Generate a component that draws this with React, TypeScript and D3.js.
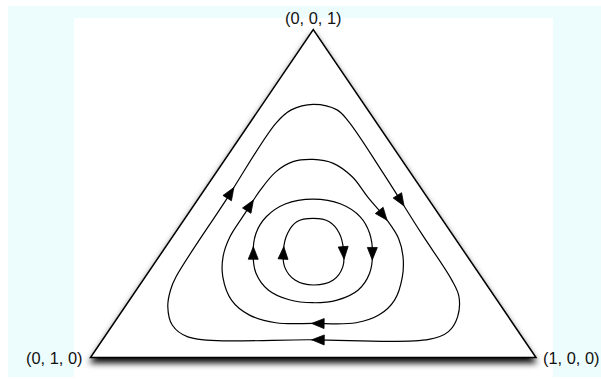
import React, { useEffect, useRef } from 'react';
import * as d3 from 'd3';

// Barycentric coordinates [x1, x2, x3]; x1 -> right corner, x2 -> left corner, x3 -> top corner.
type Tern = [number, number, number];

const cornerLabels = ['(1, 0, 0)', '(0, 1, 0)', '(0, 0, 1)'];
const corners: Tern[] = [
  [1, 0, 0],
  [0, 1, 0],
  [0, 0, 1],
];

// Closed orbits, listed in the direction of motion (clockwise on screen).
const orbitOuter: Tern[] = [
  [0.114, 0.114, 0.772],
  [0.176, 0.069, 0.755],
  [0.22, 0.061, 0.719],
  [0.376, 0.062, 0.562],
  [0.553, 0.068, 0.379],
  [0.693, 0.071, 0.236],
  [0.734, 0.08, 0.186],
  [0.762, 0.113, 0.124],
  [0.764, 0.157, 0.079],
  [0.732, 0.213, 0.055],
  [0.473, 0.473, 0.054],
  [0.187, 0.75, 0.063],
  [0.134, 0.767, 0.099],
  [0.096, 0.749, 0.155],
  [0.077, 0.718, 0.205],
  [0.069, 0.685, 0.246],
  [0.064, 0.456, 0.48],
  [0.059, 0.227, 0.714],
  [0.073, 0.172, 0.755],
];

const orbitMiddle: Tern[] = [
  [0.198, 0.198, 0.604],
  [0.249, 0.159, 0.592],
  [0.312, 0.137, 0.551],
  [0.377, 0.133, 0.49],
  [0.456, 0.125, 0.419],
  [0.51, 0.127, 0.363],
  [0.548, 0.145, 0.307],
  [0.577, 0.177, 0.246],
  [0.595, 0.23, 0.175],
  [0.583, 0.287, 0.13],
  [0.543, 0.351, 0.106],
  [0.448, 0.448, 0.104],
  [0.363, 0.531, 0.106],
  [0.291, 0.579, 0.13],
  [0.229, 0.596, 0.175],
  [0.174, 0.58, 0.246],
  [0.144, 0.549, 0.307],
  [0.129, 0.503, 0.368],
  [0.127, 0.433, 0.44],
  [0.126, 0.363, 0.511],
  [0.133, 0.301, 0.566],
  [0.156, 0.247, 0.597],
];

const orbitSmall: Tern[] = [
  [0.258, 0.259, 0.483],
  [0.328, 0.204, 0.468],
  [0.391, 0.18, 0.429],
  [0.437, 0.184, 0.379],
  [0.474, 0.208, 0.318],
  [0.498, 0.245, 0.257],
  [0.498, 0.296, 0.206],
  [0.466, 0.359, 0.175],
  [0.416, 0.417, 0.167],
  [0.358, 0.466, 0.176],
  [0.296, 0.498, 0.206],
  [0.243, 0.5, 0.257],
  [0.206, 0.476, 0.318],
  [0.182, 0.439, 0.379],
  [0.18, 0.391, 0.429],
  [0.203, 0.329, 0.468],
];

const orbitInner: Tern[] = [
  [0.288, 0.288, 0.424],
  [0.329, 0.257, 0.414],
  [0.369, 0.252, 0.379],
  [0.404, 0.268, 0.328],
  [0.428, 0.295, 0.277],
  [0.427, 0.337, 0.236],
  [0.39, 0.389, 0.221],
  [0.341, 0.423, 0.236],
  [0.297, 0.426, 0.277],
  [0.269, 0.403, 0.328],
  [0.253, 0.368, 0.379],
  [0.256, 0.33, 0.414],
];

// Arrowhead tips on each orbit.
const arrowsOuter: Tern[] = [
  [0.475, 0.06, 0.465],
  [0.469, 0.476, 0.055],
  [0.061, 0.42, 0.519],
];
const arrowsMiddle: Tern[] = [
  [0.457, 0.124, 0.419],
  [0.443, 0.451, 0.106],
  [0.125, 0.395, 0.48],
];
const arrowsSmall: Tern[] = [
  [0.482, 0.221, 0.297],
  [0.201, 0.462, 0.337],
];
const arrowsInner: Tern[] = [
  [0.418, 0.282, 0.3],
  [0.267, 0.396, 0.337],
];

const orbits: { path: Tern[]; arrows: Tern[] }[] = [
  { path: orbitOuter, arrows: arrowsOuter },
  { path: orbitMiddle, arrows: arrowsMiddle },
  { path: orbitSmall, arrows: arrowsSmall },
  { path: orbitInner, arrows: arrowsInner },
];

const WIDTH = 601;
const HEIGHT = 379;

export default function App() {
  const ref = useRef<SVGSVGElement | null>(null);

  useEffect(() => {
    const svg = d3.select(ref.current);
    svg.selectAll('*').remove();

    // Plane coordinates: u across the base, v up towards the top corner.
    const xScale = d3.scaleLinear().domain([0, 1]).range([90.5, 536]);
    const yScale = d3.scaleLinear().domain([0, 1]).range([357.5, 29.5]);
    const px = (p: Tern) => xScale(p[0] + 0.5 * p[2]);
    const py = (p: Tern) => yScale(p[2]);

    const defs = svg.append('defs');
    const filter = defs
      .append('filter')
      .attr('id', 'shadow')
      .attr('x', '-10%')
      .attr('y', '-10%')
      .attr('width', '120%')
      .attr('height', '130%');
    filter
      .append('feDropShadow')
      .attr('dx', 0)
      .attr('dy', 5)
      .attr('stdDeviation', 3)
      .attr('flood-color', '#000')
      .attr('flood-opacity', 0.95);

    // Page background
    svg.append('rect').attr('width', WIDTH).attr('height', HEIGHT).attr('fill', '#ffffff');
    svg
      .append('rect')
      .attr('x', 8)
      .attr('y', 6)
      .attr('width', WIDTH - 8)
      .attr('height', 371)
      .attr('fill', '#edfdfd');
    svg
      .append('rect')
      .attr('x', 74)
      .attr('y', 18)
      .attr('width', 479)
      .attr('height', HEIGHT - 18)
      .attr('fill', '#ffffff');

    // Simplex
    const tri = d3.line<Tern>().x(px).y(py).curve(d3.curveLinearClosed);
    svg
      .append('path')
      .attr('d', tri(corners))
      .attr('fill', '#ffffff')
      .attr('stroke', '#000')
      .attr('stroke-width', 1.5)
      .attr('stroke-linejoin', 'miter')
      .attr('filter', 'url(#shadow)');

    // Corner labels
    const labelFont = '"Liberation Sans", Arial, Helvetica, sans-serif';
    const labelPos = [
      { anchor: 'start', dx: 7, dy: 6 },
      { anchor: 'end', dx: -8, dy: 6 },
      { anchor: 'middle', dx: 0, dy: -6 },
    ];
    corners.forEach((c, i) => {
      svg
        .append('text')
        .attr('x', px(c) + labelPos[i].dx)
        .attr('y', py(c) + labelPos[i].dy)
        .attr('text-anchor', labelPos[i].anchor)
        .attr('font-family', labelFont)
        .attr('font-size', 16.4)
        .attr('fill', '#111')
        .text(cornerLabels[i]);
    });

    // Orbits with direction arrows
    const orbitLine = d3
      .line<Tern>()
      .x(px)
      .y(py)
      .curve(d3.curveCatmullRomClosed.alpha(0.5));

    orbits.forEach((o) => {
      const path = svg
        .append('path')
        .attr('d', orbitLine(o.path))
        .attr('fill', 'none')
        .attr('stroke', '#000')
        .attr('stroke-width', 1.2);
      const node = path.node() as SVGPathElement;
      const total = node.getTotalLength();

      o.arrows.forEach((a) => {
        const ax = px(a);
        const ay = py(a);
        let best = 0;
        let bestD = Infinity;
        for (let l = 0; l <= total; l += 0.5) {
          const q = node.getPointAtLength(l);
          const d = (q.x - ax) ** 2 + (q.y - ay) ** 2;
          if (d < bestD) {
            bestD = d;
            best = l;
          }
        }
        const tip = node.getPointAtLength(best);
        const back = node.getPointAtLength((best - 12 + total) % total);
        let dx = tip.x - back.x;
        let dy = tip.y - back.y;
        const len = Math.hypot(dx, dy) || 1;
        dx /= len;
        dy /= len;
        const L = 12.5;
        const W = 5;
        const bx = tip.x - dx * L;
        const by = tip.y - dy * L;
        const pts = [
          [tip.x, tip.y],
          [bx - dy * W, by + dx * W],
          [bx + dy * W, by - dx * W],
        ];
        svg
          .append('polygon')
          .attr('points', pts.map((p) => p.join(',')).join(' '))
          .attr('fill', '#000')
          .attr('stroke', '#000')
          .attr('stroke-width', 0.8)
          .attr('stroke-linejoin', 'miter');
      });
    });
  }, []);

  return (
    <svg
      ref={ref}
      width={WIDTH}
      height={HEIGHT}
      style={{ position: 'absolute', left: 0, top: 0, display: 'block' }}
    />
  );
}
